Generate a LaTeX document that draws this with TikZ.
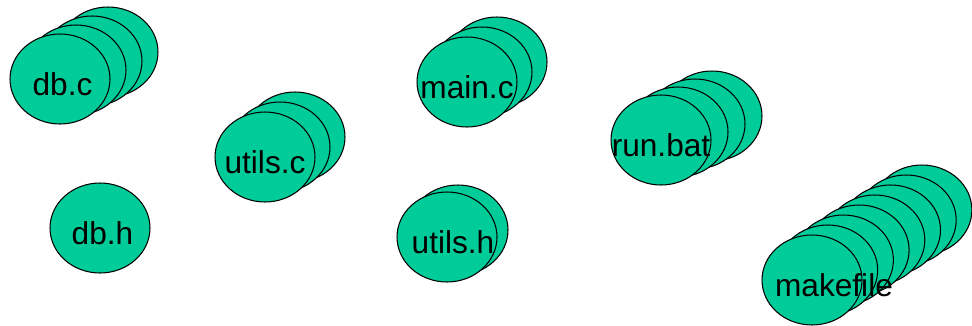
\documentclass[tikz,border=0pt]{standalone}
\usepackage{fontspec}
\setmainfont{Liberation Sans}
\usetikzlibrary{shapes.geometric}
\definecolor{file_c}{RGB}{0,204,153}

\begin{document}
\begin{tikzpicture}[
  x=0.02cm, y=-0.02cm,
  every node/.style={font=\fontsize{18}{20}\selectfont},
  ver/.style={ellipse, draw=black, fill=file_c, line width=0.6pt,
              minimum width=2cm, minimum height=1.8cm, inner sep=0pt},
  fname/.style={inner sep=0pt, text=black, yshift=-0.1cm},
]
\useasboundingbox (0,0) rectangle (972,325);
% db.c: four versions
\foreach \k in {3,2,1}
  \node[ver] (dbc-\k) at ({60+16*\k},{79-9*\k}) {};
\node[ver] (dbc) at (60,79) {};
\node[fname, xshift=0.05cm] (dbc-t) at (dbc) {db.c};
% db.h: one version
\node[ver] (dbh) at (100,228) {};
\node[fname, xshift=0.05cm] (dbh-t) at (dbh) {db.h};
% utils.c: three versions
\foreach \k in {2,1}
  \node[ver] (utc-\k) at ({265+15*\k},{157-10*\k}) {};
\node[ver] (utc) at (265,157) {};
\node[fname] (utc-t) at (utc) {utils.c};
% main.c: three versions
\foreach \k in {2,1}
  \node[ver] (mainc-\k) at ({467+15*\k},{82-10*\k}) {};
\node[ver] (mainc) at (467,82) {};
\node[fname] (mainc-t) at (mainc) {main.c};
% utils.h: two versions
\node[ver] (uth-1) at (458,230) {};
\node[ver] (uth) at (447,237) {};
\node[fname, xshift=0.12cm] (uth-t) at (uth) {utils.h};
% run.bat: four versions
\foreach \k in {3,2,1}
  \node[ver] (run-\k) at ({661+17*\k},{140-8*\k}) {};
\node[ver] (run) at (661,140) {};
\node[fname] (run-t) at (run) {run.bat};
% makefile: eight versions
\foreach \k in {7,...,1}
  \node[ver] (mk-\k) at ({812+15.7*\k},{280-10*\k}) {};
\node[ver] (mk) at (812,280) {};
\node[fname, xshift=0.44cm] (mk-t) at (mk) {makefile};
\end{tikzpicture}
\end{document}
